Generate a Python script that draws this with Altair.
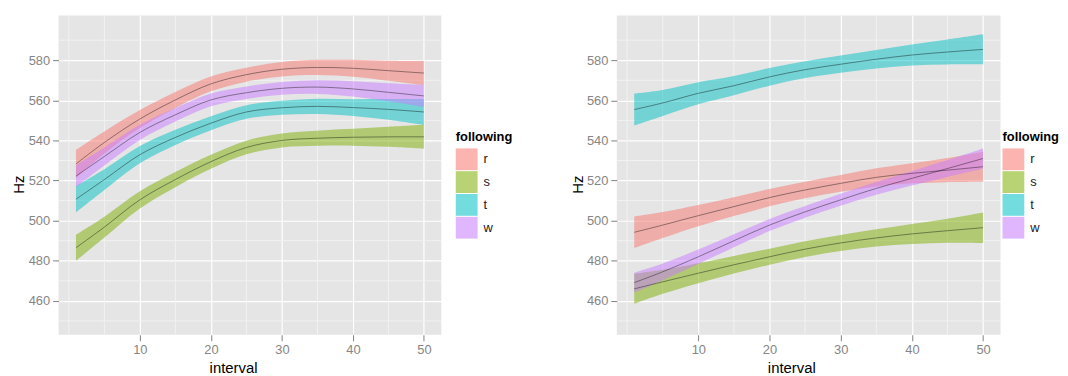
import altair as alt
import pandas as pd

intervals = [1, 5, 10, 15, 20, 25, 30, 35, 40, 45, 50]
following = ["r", "s", "t", "w"]
colors = ["#F8766D", "#7CAE00", "#00BFC4", "#C77CFF"]

# left panel: fitted Hz and half-width of the confidence band
left_r = [528.3, 539.0, 550.7, 560.2, 568.2, 572.8, 575.5, 576.4, 576.0, 574.8, 573.6]
left_s = [486.5, 496.8, 510.4, 520.5, 529.4, 536.5, 540.0, 541.1, 541.6, 541.8, 541.8]
left_t = [510.7, 520.5, 532.9, 541.5, 548.6, 554.2, 556.3, 557.0, 556.4, 555.5, 554.2]
left_w = [522.2, 532.0, 544.0, 552.8, 560.2, 563.8, 566.0, 566.6, 565.7, 564.0, 562.2]
left_r_se = [7.0, 5.5, 4.5, 4.0, 3.7, 3.5, 3.6, 3.8, 4.2, 5.0, 6.0]
left_s_se = [6.5, 5.2, 4.3, 3.8, 3.5, 3.4, 3.5, 3.8, 4.2, 5.0, 6.0]
left_t_se = [6.6, 5.2, 4.3, 3.8, 3.5, 3.4, 3.5, 3.8, 4.2, 5.2, 6.5]
left_w_se = [5.5, 4.5, 3.8, 3.4, 3.2, 3.1, 3.2, 3.4, 3.8, 4.5, 5.5]

# right panel
right_r = [494.2, 497.8, 502.5, 507.0, 511.5, 515.3, 518.6, 521.6, 523.6, 525.2, 526.9]
right_s = [466.0, 469.5, 473.8, 478.0, 482.0, 485.8, 488.9, 491.4, 493.4, 495.0, 496.5]
right_t = [555.4, 558.7, 563.5, 567.3, 571.7, 575.3, 578.0, 580.5, 582.6, 584.1, 585.4]
right_w = [469.1, 474.5, 482.0, 490.0, 497.8, 504.4, 510.4, 516.1, 521.1, 526.0, 531.0]
right_r_se = [7.9, 6.5, 5.3, 4.7, 4.3, 4.1, 4.2, 4.5, 5.0, 6.0, 7.5]
right_s_se = [7.5, 6.0, 5.0, 4.4, 4.0, 3.9, 4.0, 4.3, 5.0, 6.0, 7.6]
right_t_se = [8.0, 6.5, 5.5, 4.8, 4.4, 4.2, 4.3, 4.6, 5.2, 6.2, 7.5]
right_w_se = [5.0, 4.2, 3.6, 3.2, 3.0, 2.9, 3.0, 3.2, 3.6, 4.2, 5.0]

x_major = [10, 20, 30, 40, 50]
x_minor = [0, 5, 15, 25, 35, 45]
y_major = [460, 480, 500, 520, 540, 560, 580]
y_minor = [450, 470, 490, 510, 530, 550, 570, 590]

X_DOMAIN = [-1.45, 52.45]
Y_DOMAIN = [443.1, 602.3]


def panel_df(fits, ses):
    rows = []
    for f, fit, se in zip(following, fits, ses):
        for x, v, h in zip(intervals, fit, se):
            rows.append({"interval": x, "following": f, "fit": v,
                         "lo": v - h, "hi": v + h})
    return pd.DataFrame(rows)


X_AXIS = alt.Axis(
    values=x_major, title="interval", grid=True, gridColor="white",
    gridWidth=1.2, domain=False, tickSize=6, tickColor="#7F7F7F",
    labelColor="#858585", labelFontSize=13, labelPadding=3,
    titleFontSize=15, titleColor="black", titleFontWeight="normal",
    titleX=176, titleY=33, titleBaseline="middle", titleAlign="center")
Y_AXIS = alt.Axis(
    values=y_major, title="Hz", grid=True, gridColor="white",
    gridWidth=1.2, domain=False, tickSize=6, tickColor="#7F7F7F",
    labelColor="#858585", labelFontSize=13, labelPadding=3,
    titleFontSize=15, titleColor="black", titleFontWeight="normal",
    titleAngle=270, titleX=-40, titleY=170, titleBaseline="middle",
    titleAlign="center", minExtent=49, maxExtent=49)


def make_panel(df, width, legend_x):
    xs = alt.Scale(domain=X_DOMAIN, nice=False, zero=False)
    ys = alt.Scale(domain=Y_DOMAIN, nice=False, zero=False)
    xminor = alt.Chart(pd.DataFrame({"v": x_minor})).mark_rule(
        color="#F2F2F2", strokeWidth=1).encode(
        x=alt.X("v:Q", scale=xs, axis=X_AXIS))
    yminor = alt.Chart(pd.DataFrame({"v": y_minor})).mark_rule(
        color="#F2F2F2", strokeWidth=1).encode(
        y=alt.Y("v:Q", scale=ys, axis=Y_AXIS))
    base = alt.Chart(df)
    band = base.mark_area(opacity=0.5, interpolate="catmull-rom").encode(
        x=alt.X("interval:Q", scale=xs, axis=X_AXIS),
        y=alt.Y("lo:Q", scale=ys, axis=Y_AXIS),
        y2="hi:Q",
        color=alt.Color("following:N",
                        scale=alt.Scale(domain=following, range=colors),
                        legend=alt.Legend(
                            title="following", titleFontWeight="bold",
                            titleFontSize=13, titleColor="black",
                            labelFontSize=13, labelColor="#1A1A1A",
                            symbolType="square", symbolSize=484,
                            symbolStrokeWidth=0, symbolOpacity=0.55,
                            orient="none", legendX=legend_x, legendY=117,
                            rowPadding=1, labelOffset=6, titlePadding=4,
                            padding=0)),
    )
    line = base.mark_line(color="black", opacity=0.5, strokeWidth=0.8,
                          interpolate="catmull-rom").encode(
        x=alt.X("interval:Q", scale=xs, axis=X_AXIS),
        y=alt.Y("fit:Q", scale=ys, axis=Y_AXIS),
        detail="following:N",
    )
    return alt.layer(xminor, yminor, band, line).properties(
        width=width, height=322)


left = make_panel(panel_df([left_r, left_s, left_t, left_w],
                           [left_r_se, left_s_se, left_t_se, left_w_se]),
                  386, 400.6)
right = make_panel(panel_df([right_r, right_s, right_t, right_w],
                            [right_r_se, right_s_se, right_t_se, right_w_se]),
                   387, 389)

chart = alt.hconcat(left, right, spacing=55).resolve_scale(
    color="independent").properties(
    padding={"left": 2, "top": 5, "right": 0, "bottom": 0}
).configure(font="Liberation Sans").configure_view(
    fill="#E5E5E5", strokeWidth=0)

chart.save("out.html", embed_options={"renderer": "svg", "actions": False})
